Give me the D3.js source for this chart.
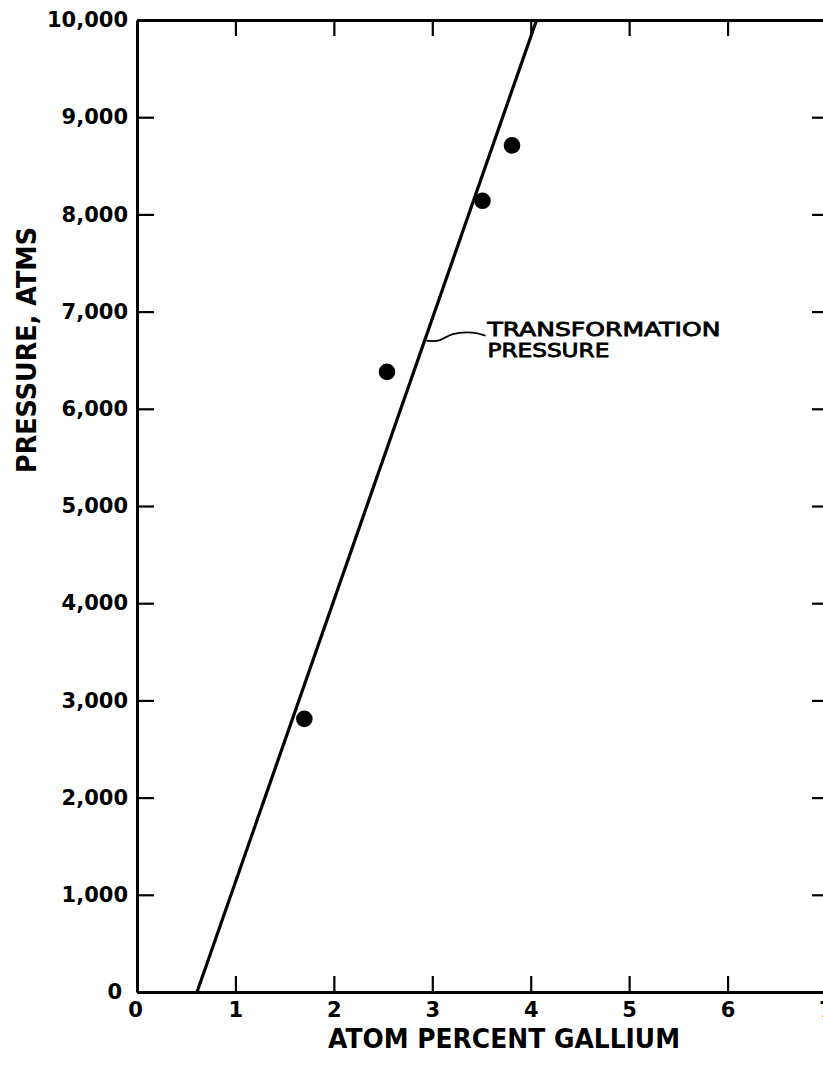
<!DOCTYPE html>
<html>
<head>
<meta charset="utf-8">
<script src="https://cdn.jsdelivr.net/npm/d3@7"></script>
<style>
  body { margin: 0; background: #fff; }
  svg { display: block; }
  .axis text { font-family: "DejaVu Sans", sans-serif; font-weight: bold; font-size: 21px; fill: #000; }
</style>
</head>
<body>
<div id="chart"></div>
<script>
// measured points, atom percent gallium vs pressure (atm)
var gallium = [1.70, 2.54, 3.51, 3.81];
var pressure = [2810, 6380, 8140, 8710];

// transformation pressure line (two ends)
var lineGallium = [0.61, 4.06];
var linePressure = [0, 10000];

var xTicks = [0, 1, 2, 3, 4, 5, 6, 7];
var yTicks = [0, 1000, 2000, 3000, 4000, 5000, 6000, 7000, 8000, 9000, 10000];

var width = 823, height = 1068;

var svg = d3.select("#chart")
  .append("svg")
  .attr("width", width)
  .attr("height", height);

svg.append("rect").attr("width", width).attr("height", height).attr("fill", "#fff");

var x = d3.scaleLinear().domain([0, 7]).range([137, 826]);
var y = d3.scaleLinear().domain([0, 10000]).range([992, 20]);

// bottom axis, ticks pointing in
var xAxis = svg.append("g")
  .attr("class", "axis")
  .attr("transform", "translate(0," + y(0) + ")")
  .call(d3.axisBottom(x).tickValues(xTicks).tickFormat(d3.format("d"))
    .tickSizeInner(-16).tickSizeOuter(0).tickPadding(10));

// left axis
var yAxis = svg.append("g")
  .attr("class", "axis")
  .attr("transform", "translate(" + x(0) + ",0)")
  .call(d3.axisLeft(y).tickValues(yTicks).tickFormat(d3.format(","))
    .tickSizeInner(-17).tickSizeOuter(0).tickPadding(9));

// top and right frame, ticks only
var topAxis = svg.append("g")
  .attr("class", "axis")
  .attr("transform", "translate(0," + y(10000) + ")")
  .call(d3.axisTop(x).tickValues(xTicks.slice(1, 7)).tickFormat("")
    .tickSizeInner(-16).tickSizeOuter(0));

var rightAxis = svg.append("g")
  .attr("class", "axis")
  .attr("transform", "translate(" + x(7) + ",0)")
  .call(d3.axisRight(y).tickValues(yTicks.slice(1, 10)).tickFormat("")
    .tickSizeInner(-14).tickSizeOuter(0));

svg.selectAll(".axis .domain").attr("stroke", "#000").attr("stroke-width", 3);
svg.selectAll(".axis .tick line").attr("stroke", "#000").attr("stroke-width", 2.2);

// the two zeros sit a touch off their ticks
xAxis.selectAll(".tick text").filter(function(d) { return d === 0; }).attr("dx", "-2");
yAxis.selectAll(".tick text").filter(function(d) { return d === 0; }).attr("dx", "-6");

// transformation line
var lineData = lineGallium.map(function(g, i) { return [g, linePressure[i]]; });
svg.append("path")
  .datum(lineData)
  .attr("fill", "none")
  .attr("stroke", "#000")
  .attr("stroke-width", 3.2)
  .attr("d", d3.line().x(function(d) { return x(d[0]); }).y(function(d) { return y(d[1]); }));

// data points
svg.selectAll(".dot")
  .data(gallium)
  .enter().append("circle")
  .attr("class", "dot")
  .attr("cx", function(d) { return x(d); })
  .attr("cy", function(d, i) { return y(pressure[i]); })
  .attr("r", 8.3)
  .attr("fill", "#000");

// annotation with squiggly leader
var anchorP = 6700;
var anchorG = lineGallium[0] + (lineGallium[1] - lineGallium[0]) * (anchorP - linePressure[0]) / (linePressure[1] - linePressure[0]);
var ax = x(anchorG) + 2, ay = y(anchorP);
var leader = [[0, 0], [14, 1], [24, -8], [48, -9], [59, -5]];
svg.append("path")
  .attr("fill", "none")
  .attr("stroke", "#000")
  .attr("stroke-width", 1.8)
  .attr("d", d3.line().curve(d3.curveBasis)
    .x(function(d) { return ax + d[0]; })
    .y(function(d) { return ay + d[1]; })(leader));

var labelG = 3.56, labelP = 6750;
var note = svg.append("g")
  .attr("font-family", "DejaVu Sans, sans-serif")
  .attr("font-size", 19)
  .attr("fill", "#000")
  .attr("stroke", "#000")
  .attr("stroke-width", 0.8);
note.append("text")
  .attr("x", x(labelG)).attr("y", y(labelP))
  .attr("textLength", 233).attr("lengthAdjust", "spacingAndGlyphs")
  .text("TRANSFORMATION");
note.append("text")
  .attr("x", x(labelG)).attr("y", y(labelP) + 21)
  .attr("textLength", 122).attr("lengthAdjust", "spacingAndGlyphs")
  .text("PRESSURE");

// axis titles
svg.append("text")
  .attr("x", 504).attr("y", 1048)
  .attr("text-anchor", "middle")
  .attr("font-family", "DejaVu Sans, sans-serif")
  .attr("font-weight", "bold")
  .attr("font-size", 26)
  .attr("textLength", 352).attr("lengthAdjust", "spacingAndGlyphs")
  .text("ATOM PERCENT GALLIUM");

svg.append("text")
  .attr("transform", "translate(36,350) rotate(-90)")
  .attr("text-anchor", "middle")
  .attr("font-family", "DejaVu Sans, sans-serif")
  .attr("font-weight", "bold")
  .attr("font-size", 27)
  .attr("textLength", 246).attr("lengthAdjust", "spacingAndGlyphs")
  .text("PRESSURE, ATMS");
</script>
</body>
</html>
